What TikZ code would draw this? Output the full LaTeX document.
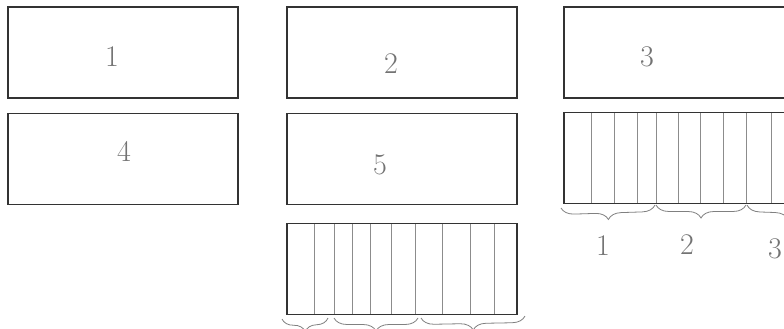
\documentclass[tikz,border=0pt]{standalone}
\usetikzlibrary{decorations.pathreplacing}
\begin{document}
\begin{tikzpicture}[x=1pt,y=-1pt,line width=.6pt,
  panel/.style={draw=black!80,line width=1.3pt,rectangle,minimum width=230pt,minimum height=91pt,inner sep=0pt},
  hand/.style={text=black!55,font=\fontsize{30}{30}\selectfont},
  stripe/.style={draw=black!45,line width=.7pt},
  curly/.style={draw=black!50,line width=.8pt,decorate,decoration={brace,mirror,amplitude=13pt}}]
  \useasboundingbox (0,0) rectangle (784,329);
  \clip (0,0) rectangle (784,329);
  \fill[white] (0,0) rectangle (784,329);
  % top two rows
  \node[panel] (one) at (123,52.5) {};
  \node[panel] (two) at (402,52.5) {};
  \node[panel] (three) at (679,52.5) {};
  \node[panel] (four) at (123,159) {};
  \node[panel] (five) at (402,159) {};
  \node[panel] (six) at (679,158) {};
  \node[panel] (seven) at (402,269) {};
  \node[hand] (lone) at (112,57) {1};
  \node[hand] (ltwo) at (391,64) {2};
  \node[hand] (lthree) at (647,57) {3};
  \node[hand] (lfour) at (124,151) {4};
  \node[hand] (lfive) at (380,165) {5};
  % stripes
  \foreach \x in {591,614,637,656,678,700,723,746,771}
    \draw[stripe] (\x,113) -- (\x,203);
  \foreach \x in {314,334,352,370,391,415,442,470,494}
    \draw[stripe] (\x,224) -- (\x,314);
  % braces
  \draw[curly] (561,208) -- (655,205);
  \draw[curly] (656,205) -- (746,205);
  \draw[curly] (747,205) -- (830,208);
  \node[hand] (bone) at (603,246) {1};
  \node[hand] (btwo) at (687,245) {2};
  \node[hand] (bthree) at (775,249) {3};
  \draw[curly] (282,319) -- (328,318);
  \draw[curly] (334,318) -- (418,318);
  \draw[curly] (421,318) -- (525,316);
\end{tikzpicture}
\end{document}
